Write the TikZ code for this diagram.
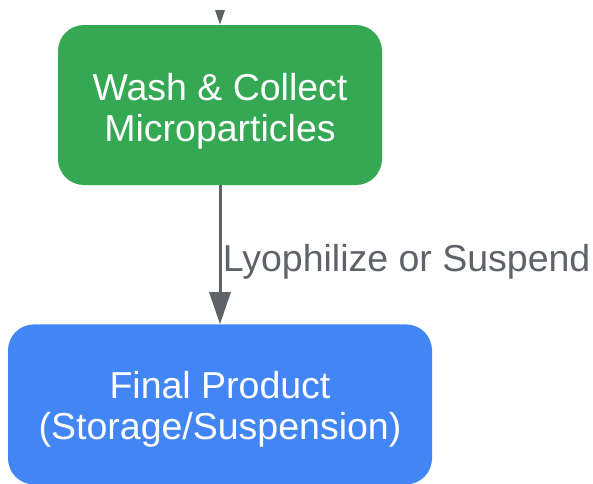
\documentclass[tikz,border=0pt]{standalone}
\usepackage{fontspec}
\setmainfont{Liberation Sans}
\usetikzlibrary{positioning, arrows.meta}

\definecolor{stepgreen}{HTML}{34A853}
\definecolor{stepblue}{HTML}{4285F4}
\definecolor{flowgray}{HTML}{5F6368}

\begin{document}
\begin{tikzpicture}[x=1pt, y=1pt, node distance=139pt,
        stepbox/.style={rectangle, rounded corners=26pt, text=white, align=center,
            minimum height=160pt, font=\fontsize{37.5}{41}\selectfont},
        flow/.style={-{Triangle[width=21pt, length=32pt]}, draw=flowgray, line width=3pt}]
        \useasboundingbox (0,0) rectangle (593,-483);

        \node (wash) [stepbox, fill=stepgreen, minimum width=324pt] at (220,-105) {\raisebox{-6pt}[\height][\depth]{\parbox{300pt}{\centering Wash \& Collect\\Microparticles}}};
        \node (final) [stepbox, fill=stepblue, minimum width=424pt, below=of wash] {\raisebox{-5pt}[\height][\depth]{\parbox{410pt}{\centering Final Product\\(Storage/Suspension)}}};
        \coordinate (above) at (220,20);

        \begin{scope}
            \clip (0,-10) rectangle (593,-483);
            \draw[flow] (above) -- (wash);
        \end{scope}
        \draw[flow] (wash) -- node[right, text=flowgray, font=\fontsize{37.5}{41}\selectfont, xshift=-2pt, yshift=-7pt] {Lyophilize or Suspend} (final);
    \end{tikzpicture}
\end{document}
